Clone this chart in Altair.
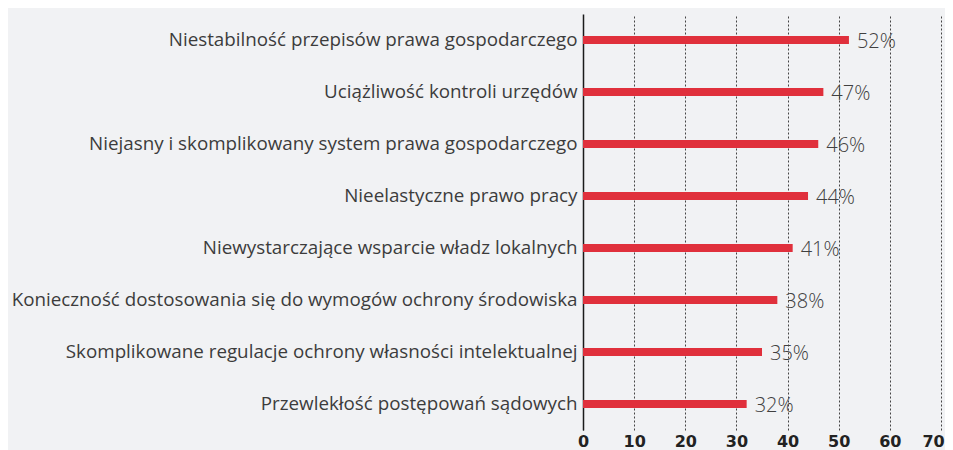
import altair as alt
import pandas as pd

categories = [
    "Niestabilność przepisów prawa gospodarczego",
    "Uciążliwość kontroli urzędów",
    "Niejasny i skomplikowany system prawa gospodarczego",
    "Nieelastyczne prawo pracy",
    "Niewystarczające wsparcie władz lokalnych",
    "Konieczność dostosowania się do wymogów ochrony środowiska",
    "Skomplikowane regulacje ochrony własności intelektualnej",
    "Przewlekłość postępowań sądowych",
]
values = [52, 47, 46, 44, 41, 38, 35, 32]
x_ticks = [0, 10, 20, 30, 40, 50, 60, 70]

df = pd.DataFrame({"cat": categories, "val": values})
df["label"] = [f"{v}%" for v in values]

y_scale = alt.Scale(paddingInner=0, paddingOuter=0)
y_enc = alt.Y("cat:N", sort=categories, title=None, scale=y_scale,
              axis=alt.Axis(domain=True, domainColor="#1a1a1a", domainWidth=1.5,
                            ticks=False, grid=False, labelFontSize=18.8,
                            labelColor="#3c3c3c", labelFont="Open Sans",
                            labelFontWeight=400, labelPadding=6, labelLimit=700))
x_scale = alt.Scale(domain=[0, 70], nice=False)
x_axis = alt.Axis(values=x_ticks, domain=False, ticks=False, grid=True,
                  gridDash=[2, 2], gridColor="#444444", gridWidth=1,
                  labelFontSize=16, labelFontWeight="bold", labelColor="#222222",
                  labelFont="DejaVu Sans", labelPadding=3, labelFlush=False,
                  labelOffset={"condition": {"test": "datum.value == 70", "value": -8}, "value": 0},
                  title=None)

bars = alt.Chart(df).mark_bar(size=8, color="#e0303c").encode(
    x=alt.X("val:Q", scale=x_scale, axis=x_axis),
    y=y_enc,
)
text = alt.Chart(df).mark_text(align="left", dx=8, dy=2, fontSize=20,
                               font="Open Sans", fontWeight=300, color="#404040").encode(
    x=alt.X("val:Q", scale=x_scale),
    y=alt.Y("cat:N", sort=categories, scale=y_scale),
    text="label:N",
)

chart = (bars + text).properties(
    width=358, height=416,
    autosize=alt.AutoSizeParams(type="none"),
    padding={"left": 575, "top": 6, "right": 4, "bottom": 30},
    background="#f1f2f4",
).configure_view(stroke=None)

chart.save("out.html", embed_options={"renderer": "svg", "actions": False})
